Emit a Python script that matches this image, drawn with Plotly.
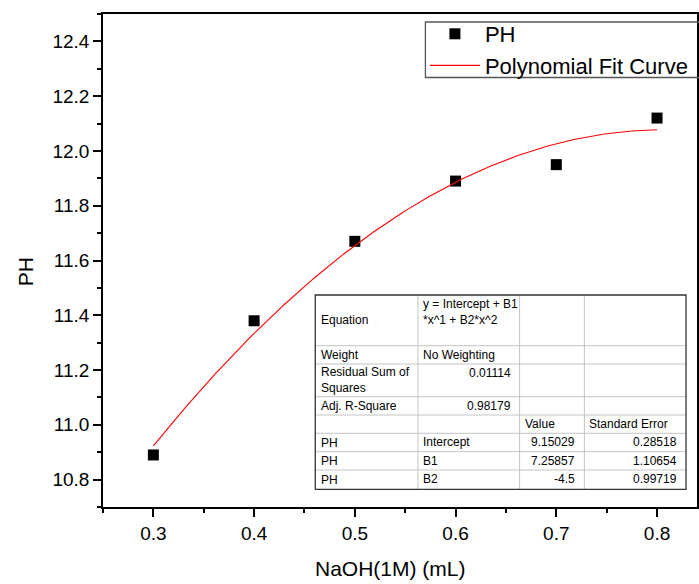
import numpy as np
import plotly.graph_objects as go

# Titration data: NaOH volume (mL) vs measured pH
naoh_ml = [0.3, 0.4, 0.5, 0.6, 0.7, 0.8]
ph_values = [10.89, 11.38, 11.67, 11.89, 11.95, 12.12]

# Fit report table (Origin-style polynomial fit summary)
col_label = ["Equation", "Weight", "Residual Sum of<br>Squares", "Adj. R-Square",
             "", "PH", "PH", "PH"]
col_param = ["y = Intercept + B1<br>*x^1 + B2*x^2", "No Weighting", "0.01114", "0.98179",
             "", "Intercept", "B1", "B2"]
col_value = ["", "", "", "", "Value", "9.15029", "7.25857", "-4.5"]
col_stderr = ["", "", "", "", "Standard Error", "0.28518", "1.10654", "0.99719"]

# Fitted polynomial coefficients, taken from the report's Value column
coef = [float(v) for v in col_value[5:]]

x_ticks = [0.3, 0.4, 0.5, 0.6, 0.7, 0.8]
y_ticks = [10.8, 11.0, 11.2, 11.4, 11.6, 11.8, 12.0, 12.2, 12.4]
x_title = "NaOH(1M) (mL)"
y_title = "PH"

W, H = 699, 584
ML, MR, MT, MB = 103, 0, 14, 77
PW, PH_ = W - ML - MR, H - MT - MB
FONT = "Liberation Sans, Arial, sans-serif"


def px_x(px):
    return (px - ML) / PW


def px_y(py):
    return (H - MB - py) / PH_


x_fit = np.linspace(naoh_ml[0], naoh_ml[-1], 201)
y_fit = coef[0] + coef[1] * x_fit + coef[2] * x_fit ** 2

fig = go.Figure()
fig.add_trace(go.Scatter(
    x=naoh_ml, y=ph_values, mode="markers", name="PH",
    marker=dict(symbol="square", size=11, color="black", line=dict(width=0)),
))
fig.add_trace(go.Scatter(
    x=x_fit, y=y_fit, mode="lines", name="Polynomial Fit Curve",
    line=dict(color="red", width=1.1),
))

# --- fit report table drawn as shapes + annotations ---
col_edges = [316, 419, 521, 586, 688]
row_edges = [295, 345.7, 364, 396.7, 415, 433.3, 451.7, 470, 489.3]

shapes = []
for y in row_edges[1:-1]:
    shapes.append(dict(type="line", xref="paper", yref="paper",
                       x0=px_x(col_edges[0]), x1=px_x(col_edges[-1]),
                       y0=px_y(y), y1=px_y(y),
                       line=dict(color="#c4c4c4", width=1)))
for x in col_edges[1:-1]:
    shapes.append(dict(type="line", xref="paper", yref="paper",
                       x0=px_x(x), x1=px_x(x),
                       y0=px_y(row_edges[0]), y1=px_y(row_edges[-1]),
                       line=dict(color="#c4c4c4", width=1)))
shapes.append(dict(type="rect", xref="paper", yref="paper",
                   x0=px_x(col_edges[0]), x1=px_x(col_edges[-1]),
                   y0=px_y(row_edges[0]), y1=px_y(row_edges[-1]),
                   line=dict(color="#333333", width=1.3), fillcolor="rgba(0,0,0,0)"))

# legend frame (runs past the right edge of the page)
shapes.append(dict(type="rect", xref="paper", yref="paper",
                   x0=px_x(426.5), x1=px_x(720), y0=px_y(22), y1=px_y(77.5),
                   line=dict(color="#555555", width=1.3), fillcolor="rgba(0,0,0,0)",
                   layer="above"))


def is_number(s):
    try:
        float(s)
        return True
    except ValueError:
        return False


annotations = []
tfont = dict(family=FONT, size=12, color="black")
for r in range(len(row_edges) - 1):
    top, bot = row_edges[r], row_edges[r + 1]
    # first column: vertically centred
    if col_label[r]:
        annotations.append(dict(
            text=col_label[r], xref="paper", yref="paper",
            x=px_x(col_edges[0] + 4), y=px_y((top + bot) / 2),
            xanchor="left", yanchor="middle", align="left",
            showarrow=False, font=tfont))
    # other columns: top aligned, numbers right, words left
    for c, col in enumerate([col_param, col_value, col_stderr], start=1):
        s = col[r]
        if not s:
            continue
        if is_number(s):
            xp, xa = col_edges[c + 1] - 7, "right"
        else:
            xp, xa = col_edges[c] + 3, "left"
        annotations.append(dict(
            text=s, xref="paper", yref="paper",
            x=px_x(xp), y=px_y(top),
            xanchor=xa, yanchor="top", align="left",
            showarrow=False, font=tfont))

# axis titles
title_font = dict(family=FONT, size=21, color="black")
annotations.append(dict(text=x_title, xref="paper", yref="paper",
                        x=px_x(391), y=px_y(568), xanchor="center", yanchor="middle",
                        showarrow=False, font=title_font))
annotations.append(dict(text=y_title, xref="paper", yref="paper",
                        x=px_x(25), y=px_y(272), xanchor="center", yanchor="middle",
                        textangle=-90, showarrow=False, font=title_font))

axis_common = dict(
    showline=True, linecolor="black", linewidth=1.6, mirror=True,
    ticks="outside", ticklen=8, tickwidth=1.5, tickcolor="black",
    showgrid=False, zeroline=False,
    tickfont=dict(family=FONT, size=19, color="black"),
)

fig.update_layout(
    width=W, height=H,
    margin=dict(l=ML, r=MR, t=MT, b=MB),
    paper_bgcolor="white", plot_bgcolor="white",
    font=dict(family=FONT, color="black"),
    xaxis=dict(
        range=[0.25, 0.25 + PW / 1010.7],
        tickvals=x_ticks, ticktext=[f"{v:.1f}" for v in x_ticks],
        minor=dict(dtick=0.05, tick0=0.25, ticks="outside", ticklen=4,
                   tickwidth=1.5, tickcolor="black", showgrid=False),
        **axis_common,
    ),
    yaxis=dict(
        range=[10.7, 12.5],
        tickvals=y_ticks, ticktext=[f"{v:.1f}" for v in y_ticks],
        minor=dict(dtick=0.1, tick0=10.7, ticks="outside", ticklen=4,
                   tickwidth=1.5, tickcolor="black", showgrid=False),
        **axis_common,
    ),
    legend=dict(
        x=px_x(426), y=px_y(13), xanchor="left", yanchor="top",
        bgcolor="rgba(0,0,0,0)", borderwidth=0,
        font=dict(family=FONT, size=22, color="black"),
        itemwidth=50, tracegroupgap=0,
    ),
    shapes=shapes,
    annotations=annotations,
)

fig.write_html("out.html")
